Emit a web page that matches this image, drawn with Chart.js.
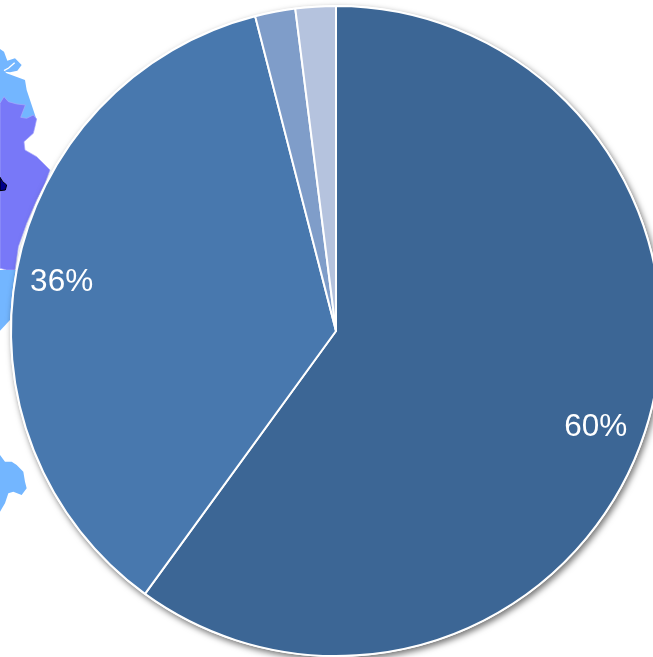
<!DOCTYPE html>
<html lang="en">
<head>
  <meta charset="UTF-8">
  <title>Pie chart</title>
  <script src="https://cdn.jsdelivr.net/npm/chart.js"></script>
  <style>
    html, body {
      margin: 0;
      width: 653px;
      height: 657px;
      overflow: hidden;
      background: #fff;
    }
    #map {
      position: absolute;
      left: 0;
      top: 0;
    }
    .chart-container {
      position: absolute;
      left: 0;
      top: 0;
      width: 672px;
      height: 662px;
    }
  </style>
</head>
<body>
  <!-- bit of a map that sits behind the pie in the original -->
  <svg id="map" width="653" height="657">
    <g transform="translate(0,40) scale(0.3333)">
      <path fill="#73b6ff" d="M0,27 L12,35 L22,62 L45,55 L65,75 L52,92 L30,97 L15,95 L20,100 L75,120 L80,150 L95,195 L105,225 L110,240 L60,240 L0,200 Z"/>
      <path fill="none" stroke="#fff" stroke-width="4" d="M12,92 L26,84 L44,68"/>
      <path fill="#7878f8" stroke="#a9a9fb" stroke-width="2" d="M0,190 L12,170 L25,185 L50,192 L76,195 L62,232 L80,235 L100,225 L110,237 L105,260 L100,280 L72,305 L75,330 L110,350 L130,370 L150,390 L135,430 L110,480 L80,550 L55,620 L45,690 L20,690 L0,685 Z"/>
      <path fill="#00008c" stroke="#000" stroke-width="3" d="M0,412 L8,425 L20,435 L16,450 L0,452 Z"/>
      <path fill="#73b6ff" d="M0,690 L50,690 L40,780 L30,840 L0,872 Z"/>
    </g>
    <g transform="translate(0,440) scale(0.3333)">
      <path fill="#73b6ff" d="M0,45 L15,65 L35,65 L50,75 L70,95 L75,125 L80,145 L65,165 L40,155 L25,160 L15,190 L0,215 Z"/>
    </g>
  </svg>
  <div class="chart-container">
    <canvas id="pieChart" width="672" height="662"></canvas>
  </div>

  <script>
    const categories = ["A", "B", "C", "D"];
    const values = [60, 36, 2, 2];
    const sliceColors = ["#3c6695", "#4878ae", "#7f9dc9", "#b5c3de"];

    // soft shadow under the whole pie
    const pieShadow = {
      id: "pieShadow",
      beforeDatasetsDraw(chart) {
        const arc = chart.getDatasetMeta(0).data[0];
        const ctx = chart.ctx;
        ctx.save();
        ctx.shadowColor = "rgba(0, 0, 0, 0.55)";
        ctx.shadowBlur = 6;
        ctx.shadowOffsetX = 2;
        ctx.shadowOffsetY = 3;
        ctx.fillStyle = "#fff";
        ctx.beginPath();
        ctx.arc(arc.x, arc.y, arc.outerRadius + 1, 0, Math.PI * 2);
        ctx.fill();
        ctx.restore();
      }
    };

    // percent labels, the thin slices have none
    const pieLabels = {
      id: "pieLabels",
      afterDatasetsDraw(chart) {
        const ctx = chart.ctx;
        const total = values.reduce((a, b) => a + b, 0);
        ctx.save();
        ctx.fillStyle = "#fff";
        ctx.font = "31.5px 'Liberation Sans', Arial, sans-serif";
        ctx.textAlign = "center";
        ctx.textBaseline = "middle";
        chart.getDatasetMeta(0).data.forEach((arc, i) => {
          if (values[i] < 5) return;
          const mid = (arc.startAngle + arc.endAngle) / 2;
          const r = arc.outerRadius * 0.85;
          const nudgeY = i === 0 ? 11 : 3;
          const pct = Math.round(values[i] / total * 100) + "%";
          ctx.fillText(pct, arc.x + Math.cos(mid) * r - 3, arc.y + Math.sin(mid) * r + nudgeY);
        });
        ctx.restore();
      }
    };

    new Chart(document.getElementById("pieChart"), {
      type: "pie",
      data: {
        labels: categories,
        datasets: [{
          data: values,
          backgroundColor: sliceColors,
          borderColor: "#fff",
          borderWidth: 2
        }]
      },
      options: {
        responsive: false,
        animation: false,
        radius: 325,
        plugins: {
          legend: { display: false },
          tooltip: { enabled: false }
        }
      },
      plugins: [pieShadow, pieLabels]
    });
  </script>
</body>
</html>
